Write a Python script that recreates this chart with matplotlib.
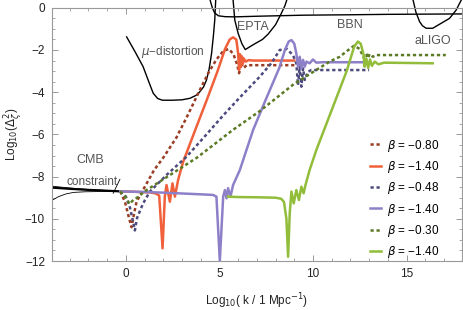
import matplotlib
matplotlib.use("Agg")
import matplotlib.pyplot as plt
from matplotlib.ticker import MultipleLocator

plt.rcParams["font.family"] = ["Liberation Sans", "DejaVu Sans"]
plt.rcParams["mathtext.fontset"] = "dejavusans"

# --- observational constraints (black curves) ---
cmb_x = [-4.0, -3.0, -2.0, -1.0, -0.3]
cmb_y = [-8.52, -8.58, -8.63, -8.67, -8.70]
cmb_up_x = [-4.0, -3.0, -2.0, -1.0, -0.3]
cmb_up_y = [-8.45, -8.54, -8.61, -8.66, -8.70]
cmb_lo_x = [-4.0, -3.6, -3.2, -2.8, -2.2, -1.5, -0.3]
cmb_lo_y = [-9.15, -8.95, -8.82, -8.75, -8.72, -8.71, -8.70]

mu_x = [0.04, 0.5, 0.92, 1.2, 1.46, 1.7, 1.95, 2.5, 3.0, 3.42, 3.75, 3.95,
        4.15, 4.31, 4.45, 4.58, 4.68, 4.75, 4.8]
mu_y = [-1.38, -2.1, -2.79, -3.45, -4.05, -4.3, -4.38, -4.38, -4.36, -4.29,
        -4.15, -3.98, -3.75, -3.42, -2.9, -2.16, -1.3, -0.58, 0.37]

epta_x = [5.73, 5.82, 6.0, 6.2, 6.38, 6.62, 6.9, 7.3, 7.6, 8.0, 8.31, 8.5, 8.6]
epta_y = [0.37, -0.58, -1.21, -1.7, -1.98, -1.85, -1.7, -1.5, -1.25, -0.8,
          -0.26, 0.1, 0.37]

bbn_x = [4.5, 4.62, 4.75, 4.95, 5.3, 5.8, 7.0, 9.5, 12.0, 14.0, 16.0, 18.0]
bbn_y = [0.37, 0.0, -0.25, -0.38, -0.42, -0.43, -0.40, -0.35, -0.33, -0.31,
         -0.30, -0.29]

ligo_x = [15.35, 15.5, 15.7, 15.85, 16.05, 16.4, 16.86, 17.3, 17.66, 17.83, 17.93]
ligo_y = [0.37, -0.2, -0.66, -0.85, -0.97, -0.97, -0.73, -0.5, -0.1, 0.2, 0.37]

# --- spectra ---
b1_dot_x = [-0.3, -0.05, 0.15, 0.3, 0.45, 0.57, 0.75, 1.5, 2.0, 2.7, 3.3, 3.95,
            4.4, 4.84, 5.2, 5.5, 5.75, 5.95, 6.05, 6.15, 6.3, 6.45, 9.3]
b1_dot_y = [-8.7, -9.2, -9.9, -10.4, -9.7, -9.19, -8.9, -7.7, -7.1, -6.15,
            -5.1, -3.9, -3.1, -2.45, -2.05, -1.95, -2.2, -2.7, -3.1, -2.6,
            -2.85, -2.72, -2.72]

b1_sol_x = [-0.3, 0.5, 1.3, 1.6, 1.78, 1.96, 2.08, 2.17, 2.35, 2.49, 2.62, 2.79,
            3.06, 3.68, 4.31, 4.9, 5.3, 5.55, 5.73, 5.9, 6.0, 6.05, 6.1, 6.15,
            6.2, 6.25, 6.3, 6.4, 6.55, 6.8, 9.0]
b1_sol_y = [-8.7, -8.72, -8.75, -8.8, -8.9, -11.4, -8.95, -8.4, -9.19, -8.32,
            -8.95, -8.16, -7.3, -5.85, -4.4, -3.0, -1.95, -1.5, -1.4, -1.5,
            -2.16, -2.95, -2.2, -2.8, -2.3, -2.65, -2.4, -2.55, -2.48, -2.5, -2.5]

b2_dot_x = [-0.3, 0.0, 0.2, 0.35, 0.48, 0.6, 0.92, 1.28, 2.2, 3.24, 4.31, 5.2,
            6.09, 7.15, 7.8, 8.22, 8.6, 8.93, 9.11, 9.2, 9.29, 9.38, 9.47, 9.56,
            9.73, 9.91, 13.0]
b2_dot_y = [-8.7, -8.95, -9.4, -10.0, -10.55, -9.95, -9.27, -8.71, -7.9, -7.06,
            -6.0, -5.1, -4.25, -3.27, -2.6, -2.0, -1.95, -2.24, -2.63, -3.66,
            -2.79, -3.74, -2.87, -3.42, -3.03, -2.95, -2.95]

b2_sol_x = [-0.3, 1.0, 2.0, 3.0, 4.0, 4.66, 4.84, 5.02, 5.2, 5.29, 5.38, 5.46,
            5.59, 5.73, 6.09, 6.8, 7.5, 8.2, 8.5, 8.7, 8.85, 9.0, 9.11, 9.2, 9.29,
            9.38, 9.47, 9.56, 9.65, 9.82, 10.0, 10.18, 10.5, 12.85]
b2_sol_y = [-8.7, -8.73, -8.76, -8.8, -8.84, -8.87, -8.95, -12.0, -8.95, -8.64,
            -9.03, -8.55, -8.95, -8.4, -7.69, -5.79, -4.3, -2.85, -2.0, -1.6,
            -1.53, -1.7, -2.16, -2.79, -2.32, -2.87, -2.47, -2.79, -2.55, -2.63,
            -2.45, -2.6, -2.58, -2.58]

b3_dot_x = [-0.3, 0.0, 0.2, 0.4, 0.6, 0.8, 1.0, 3.8, 5.7, 7.15, 9.0, 10.89,
            11.43, 11.96, 12.2, 12.5, 12.7, 12.85, 12.94, 13.03, 13.2, 13.38, 17.1]
b3_dot_y = [-8.7, -9.0, -9.3, -9.1, -9.0, -8.85, -8.7, -7.1, -5.8, -4.9, -3.6,
            -2.55, -2.32, -1.95, -1.8, -1.95, -2.35, -2.16, -2.39, -2.19, -2.32,
            -2.24, -2.24]

b3_sol_x = [5.45, 6.0, 7.0, 8.0, 8.3, 8.45, 8.58, 8.67, 8.76, 8.85, 8.97, 9.11,
            9.25, 9.38, 9.5, 9.6, 9.82, 10.18, 11.0, 11.8, 12.2, 12.4, 12.55,
            12.7, 12.76, 12.85, 12.95, 13.05, 13.15, 13.3, 13.5, 13.8, 16.4]
b3_sol_y = [-8.95, -8.97, -8.98, -9.0, -9.05, -9.2, -10.0, -11.8, -9.7, -8.71,
            -9.27, -8.64, -9.11, -8.48, -8.79, -8.4, -7.69, -6.74, -4.85, -3.0,
            -1.85, -1.6, -1.7, -2.2, -2.79, -2.4, -2.85, -2.45, -2.75, -2.55,
            -2.68, -2.6, -2.63]

betas = ["0.80", "1.40", "0.48", "1.40", "0.30", "1.40"]
labels = ["$\\beta$ = \u2212" + b for b in betas]
colors = ["#9a3d24", "#f0603a", "#4d4b7e", "#8e80c8", "#5b7a23", "#92bd3a"]

fig = plt.figure(figsize=(4.63, 3.10), dpi=100)
ax = fig.add_axes([52 / 463, 49 / 310, 409.7 / 463, 253.2 / 310])

# constraint curves
ax.plot(cmb_x, cmb_y, color="black", lw=1.6)
ax.plot(cmb_up_x, cmb_up_y, color="black", lw=0.6)
ax.plot(cmb_lo_x, cmb_lo_y, color="black", lw=0.6)
ax.plot([-0.32, -0.68], [-8.13, -8.79], color="black", lw=0.6)
for xs, ys in [(mu_x, mu_y), (epta_x, epta_y), (bbn_x, bbn_y), (ligo_x, ligo_y)]:
    ax.plot(xs, ys, color="black", lw=1.0, clip_on=False)

dot = (0, (1.3, 1.1))
series = [
    (b1_dot_x, b1_dot_y, dot),
    (b1_sol_x, b1_sol_y, "-"),
    (b2_dot_x, b2_dot_y, dot),
    (b2_sol_x, b2_sol_y, "-"),
    (b3_dot_x, b3_dot_y, dot),
    (b3_sol_x, b3_sol_y, "-"),
]
for (xs, ys, ls), c, lab in zip(series, colors, labels):
    ax.plot(xs, ys, color=c, lw=1.8, ls=ls, label=lab)

# annotations
tc = "#555555"
ax.text(-1.92, -7.21, "CMB", ha="center", va="center", fontsize=9, color=tc)
ax.text(-1.83, -8.26, "constraint", ha="center", va="center", fontsize=8.5, color=tc)
ax.text(2.51, -2.08, "$\\mu$\u2212distortion", ha="center", va="center",
        fontsize=8.5, color=tc)
ax.text(6.8, -0.9, "EPTA", ha="center", va="center", fontsize=9, color=tc)
ax.text(11.96, -0.82, "BBN", ha="center", va="center", fontsize=9, color=tc)
ax.text(16.4, -1.56, "aLIGO", ha="center", va="center", fontsize=9, color=tc)

ax.set_xlim(-3.95, 17.95)
ax.set_ylim(-12, 0)
ax.xaxis.set_major_locator(MultipleLocator(5))
ax.xaxis.set_minor_locator(MultipleLocator(1))
ax.yaxis.set_major_locator(MultipleLocator(2))
ax.yaxis.set_minor_locator(MultipleLocator(0.5))
ax.tick_params(which="both", direction="in", top=True, right=True,
               color="#999999", labelsize=8.5, labelcolor="#222222", pad=5)
ax.tick_params(which="major", length=4, width=0.7)
ax.tick_params(which="minor", length=2, width=0.6)
for s in ax.spines.values():
    s.set_color("#999999")
    s.set_linewidth(0.8)

ax.set_xlabel("Log$_{10}$( k / 1 Mpc$^{-1}$)", fontsize=8.5, color="#222222")
ax.xaxis.set_label_coords(0.5, -0.122)
fig.text(0.004, 1 - 134.5 / 310, "Log$_{10}$($\\Delta_{\\zeta}^{2}$)",
         rotation=90, ha="left", va="center", fontsize=8.5, color="#222222")

ax.legend(loc="upper left", bbox_to_anchor=(0.755, 0.52), frameon=False,
          fontsize=8.5, handlelength=1.0, handletextpad=0.5,
          labelspacing=0.45, borderpad=0.2)

fig.savefig("out.png", dpi=100)
